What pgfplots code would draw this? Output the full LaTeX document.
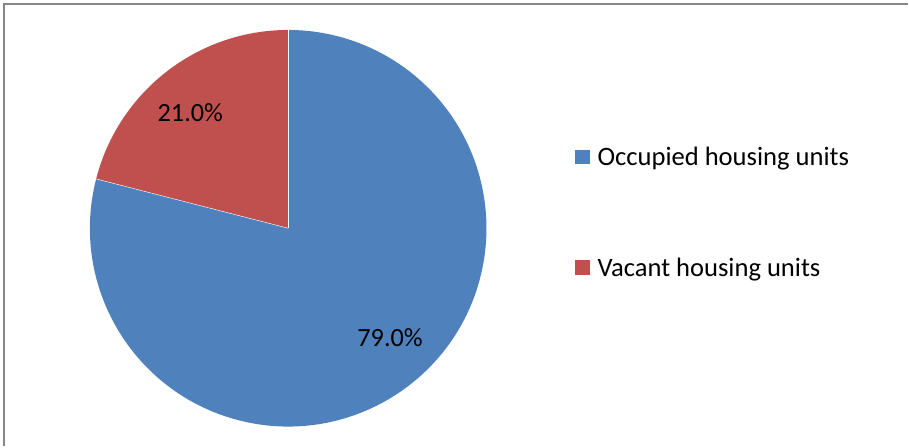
\documentclass[border=0pt]{standalone}
\usepackage{pgfplots}
\usepackage{pgfplotstable}
\pgfplotsset{compat=1.18}
\usepackage{fontspec}
\setmainfont{Carlito}
\definecolor{occ}{HTML}{4F81BD}
\definecolor{vac}{HTML}{C0504D}
\definecolor{frame}{HTML}{868686}
\pgfplotstableread{
name share
Occupied 79.0
Vacant 21.0
}\piedata
\begin{document}
\begin{tikzpicture}
\pgfplotstablegetelem{0}{share}\of\piedata \let\occval\pgfplotsretval
\pgfplotstablegetelem{1}{share}\of\piedata \let\vacval\pgfplotsretval
\pgfmathsetmacro{\aStart}{90}
\pgfmathsetmacro{\aMid}{90+3.6*\vacval}
\pgfmathsetmacro{\aEnd}{\aMid+3.6*\occval}
\begin{axis}[x=1pt,y=1pt,xmin=0,xmax=909,ymin=0,ymax=446,
  hide axis,scale only axis,clip=false,
  /pgf/number format/assume math mode=true]
\path (axis cs:0,0) rectangle (axis cs:909,446);
% frame
\draw[frame,line width=2pt] (axis cs:4.5,0) -- (axis cs:4.5,441.5) -- (axis cs:909,441.5);
% slices
\fill[vac] (axis cs:288.5,217.5) -- ++(\aStart:198.5pt) arc[start angle=\aStart,end angle=\aMid,radius=198.5pt] -- cycle;
\fill[occ] (axis cs:288.5,217.5) -- ++(\aMid:198.5pt) arc[start angle=\aMid,end angle=\aEnd,radius=198.5pt] -- cycle;
\draw[white,line width=0.4pt] (axis cs:288.5,217.5) -- ++(\aMid:198.5pt);
\draw[white,line width=0.4pt] (axis cs:288.5,217.5) -- ++(90:198.5pt);
% labels
\node[font=\fontsize{26.3}{30}\selectfont,anchor=base] at (axis cs:190.5,324) {\pgfmathprintnumber[fixed,fixed zerofill,precision=1]{\vacval}\%};
\node[font=\fontsize{26.3}{30}\selectfont,anchor=base] at (axis cs:390.5,99) {\pgfmathprintnumber[fixed,fixed zerofill,precision=1]{\occval}\%};
% legend
\fill[occ] (axis cs:576,282) rectangle (axis cs:591,296);
\fill[vac] (axis cs:576,171) rectangle (axis cs:591,186);
\node[font=\fontsize{26.6}{30}\selectfont,anchor=base west,inner sep=0pt] at (axis cs:598,280) {Occupied housing units};
\node[font=\fontsize{26.6}{30}\selectfont,anchor=base west,inner sep=0pt] at (axis cs:598,169.5) {Vacant housing units};
\end{axis}
\end{tikzpicture}
\end{document}
